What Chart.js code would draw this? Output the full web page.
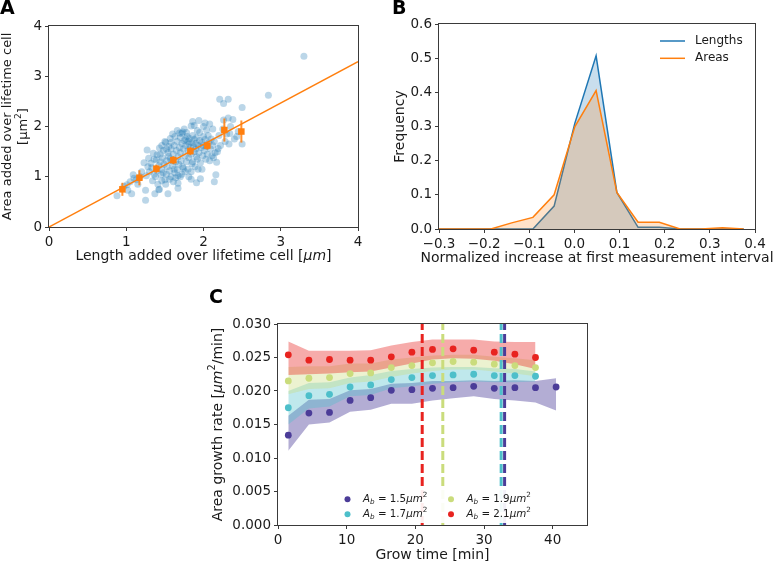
<!DOCTYPE html>
<html><head><meta charset="utf-8">
<script src="https://cdn.jsdelivr.net/npm/chart.js@4.4.1/dist/chart.umd.min.js"></script>
<style>
html,body{margin:0;padding:0;background:#fff;overflow:hidden;}
body{width:774px;height:561px;position:relative;}
canvas{position:absolute;display:block;}
</style></head><body>
<canvas id="cA" width="370" height="280" style="left:0px;top:0px"></canvas>
<canvas id="cB" width="404" height="280" style="left:370px;top:0px"></canvas>
<canvas id="cC" width="400" height="281" style="left:200px;top:280px"></canvas>
<script>
// ---------------- Panel A data ----------------
const lengthAdded = [
3.30,2.84,2.21,2.32,2.26,2.50,2.38,2.32,2.26,1.94,
1.84,2.02,2.33,2.50,2.43,2.34,2.19,2.18,2.17,2.16,
2.14,1.91,1.84,1.67,1.67,1.54,1.42,1.37,1.25,1.25,
1.07,1.02,0.88,0.97,1.09,1.13,1.27,1.23,1.50,1.57,
1.72,1.78,1.01,1.10,1.29,1.32,1.35,1.39,1.43,1.43,
1.45,1.50,1.51,1.53,1.55,1.59,1.63,1.66,1.67,1.69,
1.73,1.77,1.81,1.86,1.91,1.93,1.85,1.81,1.74,1.96,
1.88,1.95,2.00,2.04,
1.30,1.33,1.36,1.40,1.42,1.44,1.46,1.48,1.47,1.49,
1.52,1.52,1.54,1.56,1.57,1.58,1.60,1.61,1.62,1.63,
1.64,1.65,1.66,1.67,1.68,1.69,1.70,1.70,1.71,1.72,
1.73,1.74,1.75,1.76,1.77,1.78,1.79,1.80,1.80,1.81,
1.82,1.83,1.84,1.85,1.86,1.86,1.87,1.88,1.89,1.90,
1.90,1.91,1.92,1.93,1.94,1.95,1.96,1.97,1.98,1.99,
2.00,2.01,2.02,2.03,2.04,2.05,2.06,2.07,2.08,2.09,
2.10,2.11,2.12,2.13,2.14,2.15,1.28,1.26,1.34,1.38,
1.41,1.46,1.51,1.56,1.58,1.61,1.64,1.72,1.76,1.80,
1.60,1.55,1.48,1.40,1.36,1.20,1.18,1.15,1.05,2.20,
2.25,2.28,2.35,2.40,2.45,2.22,2.30,2.00,1.92,1.88,
2.08,2.12,1.98,1.84,1.70,1.62,1.58,1.52,1.44,1.46,
1.75,1.66];
const areaAdded = [
3.40,2.62,2.54,2.54,2.46,2.38,2.14,2.17,2.13,2.12,
2.01,2.07,1.65,1.65,1.80,1.86,1.56,1.50,1.29,1.04,
0.90,0.88,0.95,0.77,0.87,0.66,0.74,0.66,0.53,0.73,
0.66,0.73,0.62,0.81,1.04,0.94,1.53,1.28,1.70,1.76,
1.86,1.88,0.84,0.97,1.37,1.27,1.47,1.34,1.57,0.75,
1.04,0.94,1.68,1.20,1.41,1.32,1.80,1.14,1.02,1.87,
1.89,1.75,1.65,2.10,1.40,1.15,1.26,1.00,1.17,0.96,
1.50,1.88,1.80,1.93,
1.10,1.18,1.05,1.12,1.22,1.30,1.15,1.08,1.38,1.25,
1.32,1.05,1.48,1.12,1.36,1.55,1.22,1.45,1.62,1.08,
1.30,1.52,1.70,1.40,1.25,1.58,1.78,1.48,1.32,1.66,
1.20,1.55,1.72,1.42,1.62,1.30,1.80,1.52,1.70,1.38,
1.76,1.58,1.45,1.68,1.82,1.30,1.60,1.74,1.20,1.55,
1.66,1.78,1.35,1.62,1.48,1.72,1.28,1.58,1.68,1.42,
1.62,1.52,1.74,1.35,1.60,1.45,1.82,1.68,1.32,1.55,
1.75,1.42,1.62,1.38,1.70,1.48,1.20,1.02,0.92,1.00,
0.85,0.92,0.85,0.95,1.00,0.90,0.98,1.05,1.10,1.15,
1.85,1.60,1.52,1.44,1.35,1.10,1.00,0.85,0.90,1.82,
1.95,1.70,2.00,1.75,1.90,1.62,1.85,2.00,1.92,2.02,
2.05,1.95,1.15,1.10,1.00,1.15,1.68,1.55,1.45,1.62,
1.95,1.92];
const binLength = [0.95,1.17,1.39,1.61,1.83,2.05,2.27,2.49];
const binArea   = [0.75,0.98,1.16,1.33,1.51,1.62,1.93,1.90];
const binErr    = [0.13,0.15,0.08,0.08,0.08,0.08,0.23,0.22];
const fitLength = [0,4];
const fitArea   = [0,3.29];
const aTicksX = [0,1,2,3,4];
const aTicksY = [0,1,2,3,4];

// ---------------- Panel B data ----------------
const bBinCenters = [-0.326,-0.279,-0.232,-0.185,-0.139,-0.092,-0.045,0.001,0.048,0.094,0.141,0.188,0.234,0.281,0.328,0.375];
const lengthsFreq = [0,0,0,0,0,0,0.067,0.31,0.507,0.107,0.005,0.005,0,0,0,0];
const areasFreq   = [0,0,0,0,0.018,0.034,0.10,0.30,0.405,0.107,0.02,0.02,0,0,0.004,0];
const bTicksX = [-0.3,-0.2,-0.1,0,0.1,0.2,0.3,0.4];
const bTicksY = [0,0.1,0.2,0.3,0.4,0.5,0.6];

// ---------------- Panel C data ----------------
const growTime = [1.5,4.5,7.5,10.5,13.5,16.5,19.5,22.5,25.5,28.5,31.5,34.5,37.5,40.5];
const rate15   = [0.0134,0.0167,0.0168,0.0186,0.0190,0.0201,0.0202,0.0204,0.0205,0.0207,0.0204,0.0205,0.0205,0.0206];
const rate15Lo = [0.0111,0.0150,0.0153,0.0169,0.0172,0.0181,0.0181,0.0186,0.0189,0.0192,0.0188,0.0186,0.0183,0.0171];
const rate15Hi = [0.0163,0.0187,0.0188,0.0201,0.0203,0.0211,0.0212,0.0215,0.0215,0.0216,0.0215,0.0216,0.0215,0.0219];
const rate17   = [0.0175,0.0193,0.0195,0.0206,0.0209,0.0217,0.0220,0.0223,0.0224,0.0225,0.0223,0.0223,0.0222];
const rate17Lo = [0.0150,0.0174,0.0177,0.0192,0.0194,0.0204,0.0207,0.0211,0.0213,0.0214,0.0213,0.0213,0.0214];
const rate17Hi = [0.0200,0.0212,0.0213,0.0220,0.0224,0.0230,0.0233,0.0235,0.0236,0.0236,0.0234,0.0233,0.0229];
const rate19   = [0.0215,0.0219,0.0220,0.0226,0.0227,0.0235,0.0238,0.0242,0.0244,0.0243,0.0240,0.0238,0.0235];
const rate19Lo = [0.0195,0.0203,0.0204,0.0212,0.0214,0.0221,0.0226,0.0230,0.0232,0.0232,0.0229,0.0226,0.0222];
const rate19Hi = [0.0236,0.0237,0.0237,0.0241,0.0241,0.0247,0.0250,0.0253,0.0254,0.0254,0.0251,0.0249,0.0246];
const rate21   = [0.0254,0.0246,0.0247,0.0246,0.0246,0.0251,0.0258,0.0262,0.0263,0.0261,0.0258,0.0255,0.0250];
const rate21Lo = [0.0224,0.0225,0.0226,0.0228,0.0229,0.0235,0.0241,0.0247,0.0249,0.0248,0.0245,0.0240,0.0233];
const rate21Hi = [0.0274,0.0260,0.0260,0.0260,0.0261,0.0268,0.0273,0.0277,0.0277,0.0277,0.0274,0.0273,0.0273];
const birthAreas = ['1.5','1.7','1.9','2.1'];
const divisionTime = [33.0,32.5,24.0,21.0];
const cTicksX = [0,10,20,30,40];
const cTicksY = [0,0.005,0.010,0.015,0.020,0.025,0.030];

// ---------------- styling / helpers ----------------
const FAM = '"DejaVu Sans", "Liberation Sans", sans-serif';
const INK = '#1a1a1a';
const SPINE = '#3a3a3a';
const BLUE = '#1f77b4', ORANGE = '#ff7f0e';
const TICK = 13.5;
const cColors = ['#4b3c98','#4dbfca','#cadc7c','#e8231f'];
const cBands  = ['rgba(75,60,152,0.42)','rgba(77,191,202,0.36)','rgba(202,220,124,0.36)','rgba(232,35,31,0.38)'];
Chart.defaults.font.family = FAM;
Chart.defaults.color = INK;
Chart.defaults.animation = false;

function fontOf(st, size){
  const it = st.indexOf('i') >= 0;
  const small = st.indexOf('sub') >= 0 || st.indexOf('sup') >= 0;
  return (it ? 'italic ' : '') + (small ? size*0.7 : size) + 'px ' + FAM;
}
function richWidth(ctx, segs, size){
  let w = 0; ctx.save();
  segs.forEach(s => { ctx.font = fontOf(s[1]||'', size); w += ctx.measureText(s[0]).width; });
  ctx.restore(); return w;
}
function drawRich(ctx, segs, x, y, size, align, rot, color){
  ctx.save(); ctx.translate(x, y); if (rot) ctx.rotate(rot);
  const w = richWidth(ctx, segs, size);
  let cx = align === 'left' ? 0 : (align === 'right' ? -w : -w/2);
  ctx.fillStyle = color || INK; ctx.textBaseline = 'middle'; ctx.textAlign = 'left';
  segs.forEach(s => {
    const st = s[1]||''; ctx.font = fontOf(st, size);
    let dy = 0; if (st.indexOf('sub')>=0) dy = size*0.28; if (st.indexOf('sup')>=0) dy = -size*0.38;
    ctx.fillText(s[0], cx, dy); cx += ctx.measureText(s[0]).width;
  });
  ctx.restore();
}
function linScale(min, max, ticks, fmt, size, fit, horizontal){
  return {
    type:'linear', min:min, max:max,
    afterBuildTicks: s => { s.ticks = ticks.map(v => ({value:v})); },
    afterFit: s => { if (horizontal) s.height = fit; else s.width = fit; },
    grid:{display:true, drawOnChartArea:false, drawTicks:true, tickLength:4, color:SPINE, lineWidth:1},
    border:{display:false},
    ticks:{font:{size:size}, color:INK, padding:3, maxRotation:0, minRotation:0, autoSkip:false, callback: fmt}
  };
}
const boxPlugin = {id:'box', afterDraw(chart){
  const a = chart.chartArea, ctx = chart.ctx;
  ctx.save(); ctx.strokeStyle = SPINE; ctx.lineWidth = 1;
  ctx.strokeRect(Math.round(a.left)-0.5, Math.round(a.top)-0.5, Math.round(a.right-a.left)+1, Math.round(a.bottom-a.top)+1);
  ctx.restore();
}};
function titlesPlugin(items){ return {id:'titles', afterDraw(chart){
  const a = chart.chartArea;
  items.forEach(it => { const p = it.pos(a); drawRich(chart.ctx, it.segs, p[0], p[1], it.size, 'center', it.rot||0, INK); });
}}; }
function letterPlugin(ch, x, y){ return {id:'letter', afterDraw(chart){
  const c = chart.ctx; c.save(); c.font = 'bold 19px ' + FAM; c.fillStyle = '#000'; c.textBaseline = 'alphabetic'; c.fillText(ch, x, y); c.restore();
}}; }
const baseOpts = (pad) => ({responsive:false, devicePixelRatio:1, animation:false, events:[],
  layout:{padding:pad}, plugins:{legend:{display:false}, tooltip:{enabled:false}}});
const NONE = 'rgba(0,0,0,0)';
const ROT = -Math.PI/2;

// ---------------- Panel A ----------------
(function(){
  const ds = [];
  ds.push({label:'binned', data: binLength.map((x,i)=>({x:x, y:binArea[i]})), showLine:false,
    pointStyle:'rect', pointRadius:4.6, pointHoverRadius:4.6, backgroundColor:ORANGE, borderWidth:0, order:0});
  binLength.forEach((x,i)=>{
    ds.push({label:'err'+i, data:[{x:x, y:binArea[i]-binErr[i]},{x:x, y:binArea[i]+binErr[i]}], showLine:true,
      borderColor:'rgba(255,127,14,0.85)', borderWidth:2, pointRadius:0, fill:false, order:1});
  });
  ds.push({label:'fit', data: fitLength.map((x,i)=>({x:x, y:fitArea[i]})), showLine:true, borderColor:ORANGE,
    borderWidth:1.5, pointRadius:0, fill:false, order:2});
  ds.push({label:'cells', data: lengthAdded.map((x,i)=>({x:x, y:areaAdded[i]})), showLine:false,
    pointRadius:3.5, pointHoverRadius:3.5, backgroundColor:'rgba(31,119,180,0.3)', borderWidth:0, order:3});
  const opts = baseOpts({left:0, top:26, right:12, bottom:0});
  opts.scales = {
    x: linScale(0, 4, aTicksX, v => String(v), TICK, 53, true),
    y: linScale(0, 4, aTicksY, v => String(v), TICK, 49, false)
  };
  new Chart(document.getElementById('cA'), {type:'line', data:{datasets:ds}, options:opts,
    plugins:[boxPlugin, letterPlugin('A', 0, 14), titlesPlugin([
      {segs:[['Length added over lifetime cell [',''],['μm','i'],[']','']], size:14, pos:a=>[(a.left+a.right)/2, a.bottom+29]},
      {segs:[['Area added over lifetime cell','']], size:13, rot:ROT, pos:a=>[7.5, (a.top+a.bottom)/2]},
      {segs:[['[μm',''],['2','sup'],[']','']], size:13, rot:ROT, pos:a=>[24, (a.top+a.bottom)/2]}
    ])]});
})();

// ---------------- Panel B ----------------
(function(){
  const ds = [
    {label:'Lengths', data: bBinCenters.map((x,i)=>({x:x, y:lengthsFreq[i]})), borderColor:BLUE,
      backgroundColor:'rgba(31,119,180,0.24)', fill:'origin', borderWidth:1.5, pointRadius:0, tension:0, order:1},
    {label:'Areas', data: bBinCenters.map((x,i)=>({x:x, y:areasFreq[i]})), borderColor:ORANGE,
      backgroundColor:'rgba(255,127,14,0.22)', fill:'origin', borderWidth:1.5, pointRadius:0, tension:0, order:0}
  ];
  const opts = baseOpts({left:0, top:24, right:19, bottom:0});
  opts.scales = {
    x: linScale(-0.3, 0.4, bTicksX, v => (Math.abs(v) < 1e-9 ? '0.0' : v.toFixed(1).replace('-', '\u2212')), TICK, 51, true),
    y: linScale(0, 0.6, bTicksY, v => v.toFixed(1), TICK, 69, false)
  };
  const bLegend = {id:'bLegend', afterDraw(chart){
    const ctx = chart.ctx;
    chart.data.datasets.forEach((d,i)=>{
      const y = 41 + i*17.3;
      ctx.save(); ctx.strokeStyle = d.borderColor; ctx.lineWidth = 1.5;
      ctx.beginPath(); ctx.moveTo(290, y); ctx.lineTo(315, y); ctx.stroke();
      ctx.font = '12px ' + FAM; ctx.fillStyle = INK; ctx.textBaseline = 'middle'; ctx.fillText(d.label, 325, y);
      ctx.restore();
    });
  }};
  new Chart(document.getElementById('cB'), {type:'line', data:{datasets:ds}, options:opts,
    plugins:[boxPlugin, bLegend, letterPlugin('B', 22, 14), titlesPlugin([
      {segs:[['Normalized increase at first measurement interval','']], size:14, pos:a=>[(a.left+a.right)/2, a.bottom+29]},
      {segs:[['Frequency','']], size:14, rot:ROT, pos:a=>[30.7, (a.top+a.bottom)/2]}
    ])]});
})();

// ---------------- Panel C ----------------
(function(){
  const means = [rate15, rate17, rate19, rate21];
  const los = [rate15Lo, rate17Lo, rate19Lo, rate21Lo];
  const his = [rate15Hi, rate17Hi, rate19Hi, rate21Hi];
  const ds = [];
  means.forEach((m,k)=>{
    ds.push({label:'hi'+k, data: his[k].map((v,i)=>({x:growTime[i], y:v})), borderColor:NONE, borderWidth:0,
      backgroundColor:cBands[k], fill:'+1', pointRadius:0, tension:0, order:9-k});
    ds.push({label:'lo'+k, data: los[k].map((v,i)=>({x:growTime[i], y:v})), borderColor:NONE, borderWidth:0,
      fill:false, pointRadius:0, tension:0, order:9-k});
  });
  means.forEach((m,k)=>{
    ds.push({label:'div'+k, data:[{x:divisionTime[k], y:cTicksY[0]},{x:divisionTime[k], y:cTicksY[cTicksY.length-1]}],
      borderColor:cColors[k], borderWidth:3, borderDash:[9,4], pointRadius:0, fill:false, order:1+k});
  });
  means.forEach((m,k)=>{
    ds.push({label:'A_b = '+birthAreas[k], data: m.map((v,i)=>({x:growTime[i], y:v})), showLine:false,
      pointRadius:3.4, pointHoverRadius:3.4, backgroundColor:cColors[k], borderWidth:0, order:0});
  });
  const opts = baseOpts({left:0, top:44, right:13, bottom:0});
  opts.scales = {
    x: linScale(0, 45, cTicksX, v => String(v), TICK, 36, true),
    y: linScale(0, 0.030, cTicksY, v => v.toFixed(3), TICK, 78, false)
  };
  const cLegend = {id:'cLegend', afterDraw(chart){
    const ctx = chart.ctx, a = chart.chartArea;
    ctx.save(); ctx.fillStyle = 'rgba(255,255,255,0.92)';
    ctx.fillRect(a.left + 59, a.bottom - 36, 198, 34); ctx.restore();
    birthAreas.forEach((v,i)=>{
      const col = Math.floor(i/2), row = i % 2;
      const mx = a.left + 69.5 + col*103.5, my = a.bottom - 25.7 + row*15;
      ctx.save(); ctx.beginPath(); ctx.arc(mx, my, 3, 0, 2*Math.PI); ctx.fillStyle = cColors[i]; ctx.fill(); ctx.restore();
      drawRich(ctx, [['A','i'],['b','isub'],[' = '+v,''],['μm','i'],['2','sup']], mx+15.5, my, 10.3, 'left', 0, INK);
    });
  }};
  new Chart(document.getElementById('cC'), {type:'line', data:{datasets:ds}, options:opts,
    plugins:[boxPlugin, cLegend, letterPlugin('C', 9, 23), titlesPlugin([
      {segs:[['Grow time [min]','']], size:14, pos:a=>[(a.left+a.right)/2, a.bottom+30]},
      {segs:[['Area growth rate [',''],['μm','i'],['2','sup'],['/min]','']], size:14, rot:ROT, pos:a=>[18, (a.top+a.bottom)/2]}
    ])]});
})();
</script>
</body></html>
